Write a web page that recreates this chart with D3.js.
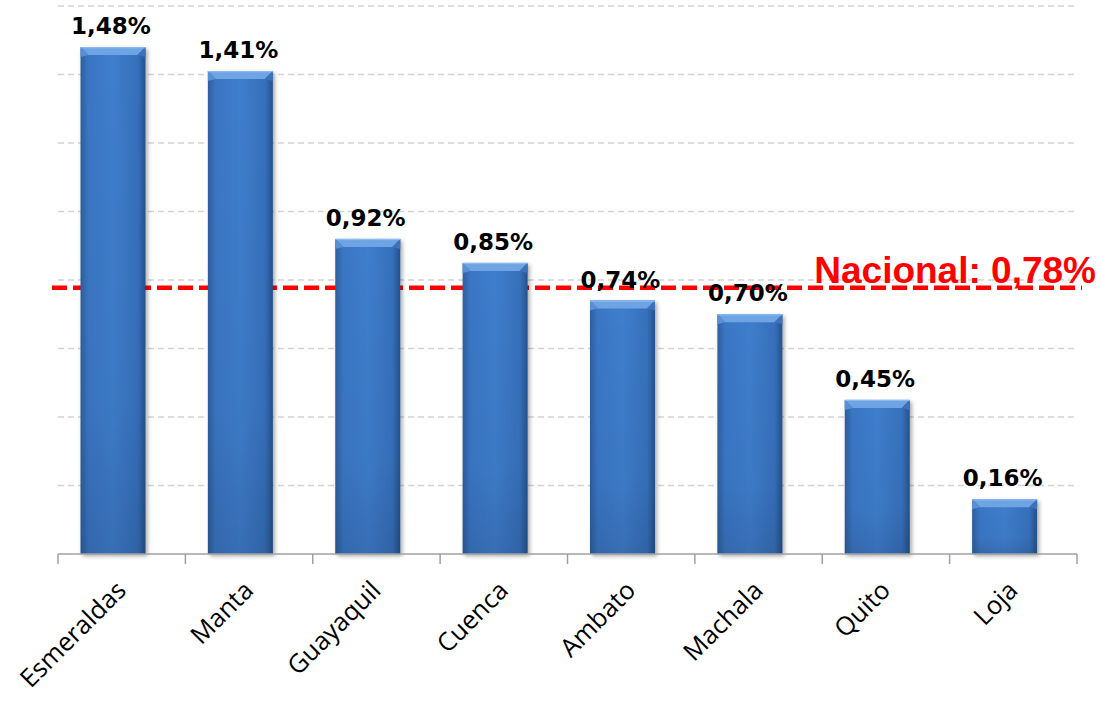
<!DOCTYPE html>
<html><head><meta charset="utf-8">
<script src="https://cdn.jsdelivr.net/npm/d3@7"></script>
<style>body{margin:0;background:#fff}svg{display:block}</style>
</head><body>
<svg id="chart" width="1101" height="701"></svg>
<script>
const categories = ["Esmeraldas","Manta","Guayaquil","Cuenca","Ambato","Machala","Quito","Loja"];
const values = [1.48, 1.41, 0.92, 0.85, 0.74, 0.70, 0.45, 0.16];
const valueLabels = ["1,48%","1,41%","0,92%","0,85%","0,74%","0,70%","0,45%","0,16%"];
const nationalValue = 0.78;
const nationalLabel = "Nacional: 0,78%";
const gridTicks = [0.2,0.4,0.6,0.8,1.0,1.2,1.4,1.6];

const svg = d3.select("#chart");
const x = d3.scaleBand().domain(categories).range([58, 1077]).paddingInner(0).paddingOuter(0);
const y = d3.scaleLinear().domain([0, 1.6]).range([554, 6]);

const defs = svg.append("defs");
const g1 = defs.append("linearGradient").attr("id","barH").attr("x1","0").attr("x2","1").attr("y1","0").attr("y2","0");
g1.append("stop").attr("offset","0").attr("stop-color","#2c5f9e");
g1.append("stop").attr("offset","0.12").attr("stop-color","#3a76c4");
g1.append("stop").attr("offset","0.5").attr("stop-color","#3f7dcc");
g1.append("stop").attr("offset","0.88").attr("stop-color","#3670bb");
g1.append("stop").attr("offset","1").attr("stop-color","#24528c");
const g2 = defs.append("linearGradient").attr("id","barV").attr("x1","0").attr("x2","0").attr("y1","0").attr("y2","1");
g2.append("stop").attr("offset","0").attr("stop-color","#000").attr("stop-opacity","0");
g2.append("stop").attr("offset","0.7").attr("stop-color","#000").attr("stop-opacity","0.03");
g2.append("stop").attr("offset","1").attr("stop-color","#000").attr("stop-opacity","0.12");
const f = defs.append("filter").attr("id","shadow").attr("x","-20%").attr("y","-20%").attr("width","140%").attr("height","140%");
f.append("feDropShadow").attr("dx","2").attr("dy","2").attr("stdDeviation","2").attr("flood-color","#000").attr("flood-opacity","0.35");

// gridlines
svg.append("g").selectAll("line").data(gridTicks).join("line")
  .attr("x1", x.range()[0]).attr("x2", x.range()[1])
  .attr("y1", d => y(d)).attr("y2", d => y(d))
  .attr("stroke","#d3d3d3").attr("stroke-width",1.3).attr("stroke-dasharray","6,4");

// national line (behind bars)
svg.append("line")
  .attr("x1", 52).attr("x2", 1082)
  .attr("y1", y(nationalValue)+1).attr("y2", y(nationalValue)+1)
  .attr("stroke","#ff0000").attr("stroke-width",4.5).attr("stroke-dasharray","15,6");

// bars
const bw = 65, off = 22.5, bev = 8;
const bars = svg.append("g").selectAll("g").data(categories).join("g")
  .attr("transform", d => `translate(${x(d)+off},0)`);
bars.append("rect")
  .attr("x",0).attr("width",bw)
  .attr("y",(d,i)=>y(values[i])).attr("height",(d,i)=>y(0)-y(values[i]))
  .attr("fill","url(#barH)").attr("filter","url(#shadow)");
bars.append("rect")
  .attr("x",0).attr("width",bw)
  .attr("y",(d,i)=>y(values[i])).attr("height",(d,i)=>y(0)-y(values[i]))
  .attr("fill","url(#barV)");
// top bevel
bars.append("path")
  .attr("d",(d,i)=>{const t=y(values[i]);return `M0,${t}L${bw},${t}L${bw-bev},${t+bev}L${bev},${t+bev}Z`;})
  .attr("fill","#6ea4e4");
bars.append("path")
  .attr("d",(d,i)=>{const t=y(values[i]);return `M0,${t}L${bev},${t+bev}L0,${t+bev+2}Z`;})
  .attr("fill","#5a8fd3");
bars.append("path")
  .attr("d",(d,i)=>{const t=y(values[i]);return `M${bw},${t}L${bw-bev},${t+bev}L${bw},${t+bev+2}Z`;})
  .attr("fill","#3d72b8");
bars.append("rect")
  .attr("x",0).attr("width",bw).attr("y",(d,i)=>y(values[i])).attr("height",1.2)
  .attr("fill","#8cbaf0");

// value labels
bars.append("text")
  .attr("x", bw/2 - 2).attr("y",(d,i)=>y(values[i])-13)
  .attr("text-anchor","middle")
  .attr("font-family","'DejaVu Sans', sans-serif").attr("font-weight","bold")
  .attr("font-size",23).attr("fill","#000")
  .text((d,i)=>valueLabels[i]);

// x axis
const xaxis = svg.append("g");
xaxis.append("line").attr("x1",x.range()[0]).attr("x2",x.range()[1])
  .attr("y1",y(0)).attr("y2",y(0)).attr("stroke","#a0a0a0").attr("stroke-width",1.5);
const tickPos = categories.map(c=>x(c)).concat([x.range()[1]]);
xaxis.selectAll("line.t").data(tickPos).join("line").attr("class","t")
  .attr("x1",d=>d).attr("x2",d=>d).attr("y1",y(0)).attr("y2",y(0)+10)
  .attr("stroke","#a0a0a0").attr("stroke-width",1.5);
xaxis.selectAll("text").data(categories).join("text")
  .attr("transform", d => `translate(${x(d)+x.bandwidth()/2+6},${y(0)+38}) rotate(-45)`)
  .attr("text-anchor","end")
  .attr("font-family","'Open Sans', sans-serif").attr("font-size",25.5).attr("fill","#000")
  .text(d=>d);

// national label
svg.append("text")
  .attr("x", 1096).attr("y", 283).attr("text-anchor","end")
  .attr("font-family","'Liberation Sans', Arial, sans-serif").attr("font-weight","bold")
  .attr("font-size",37).attr("fill","#ff0000")
  .text(nationalLabel);
</script>
</body></html>
